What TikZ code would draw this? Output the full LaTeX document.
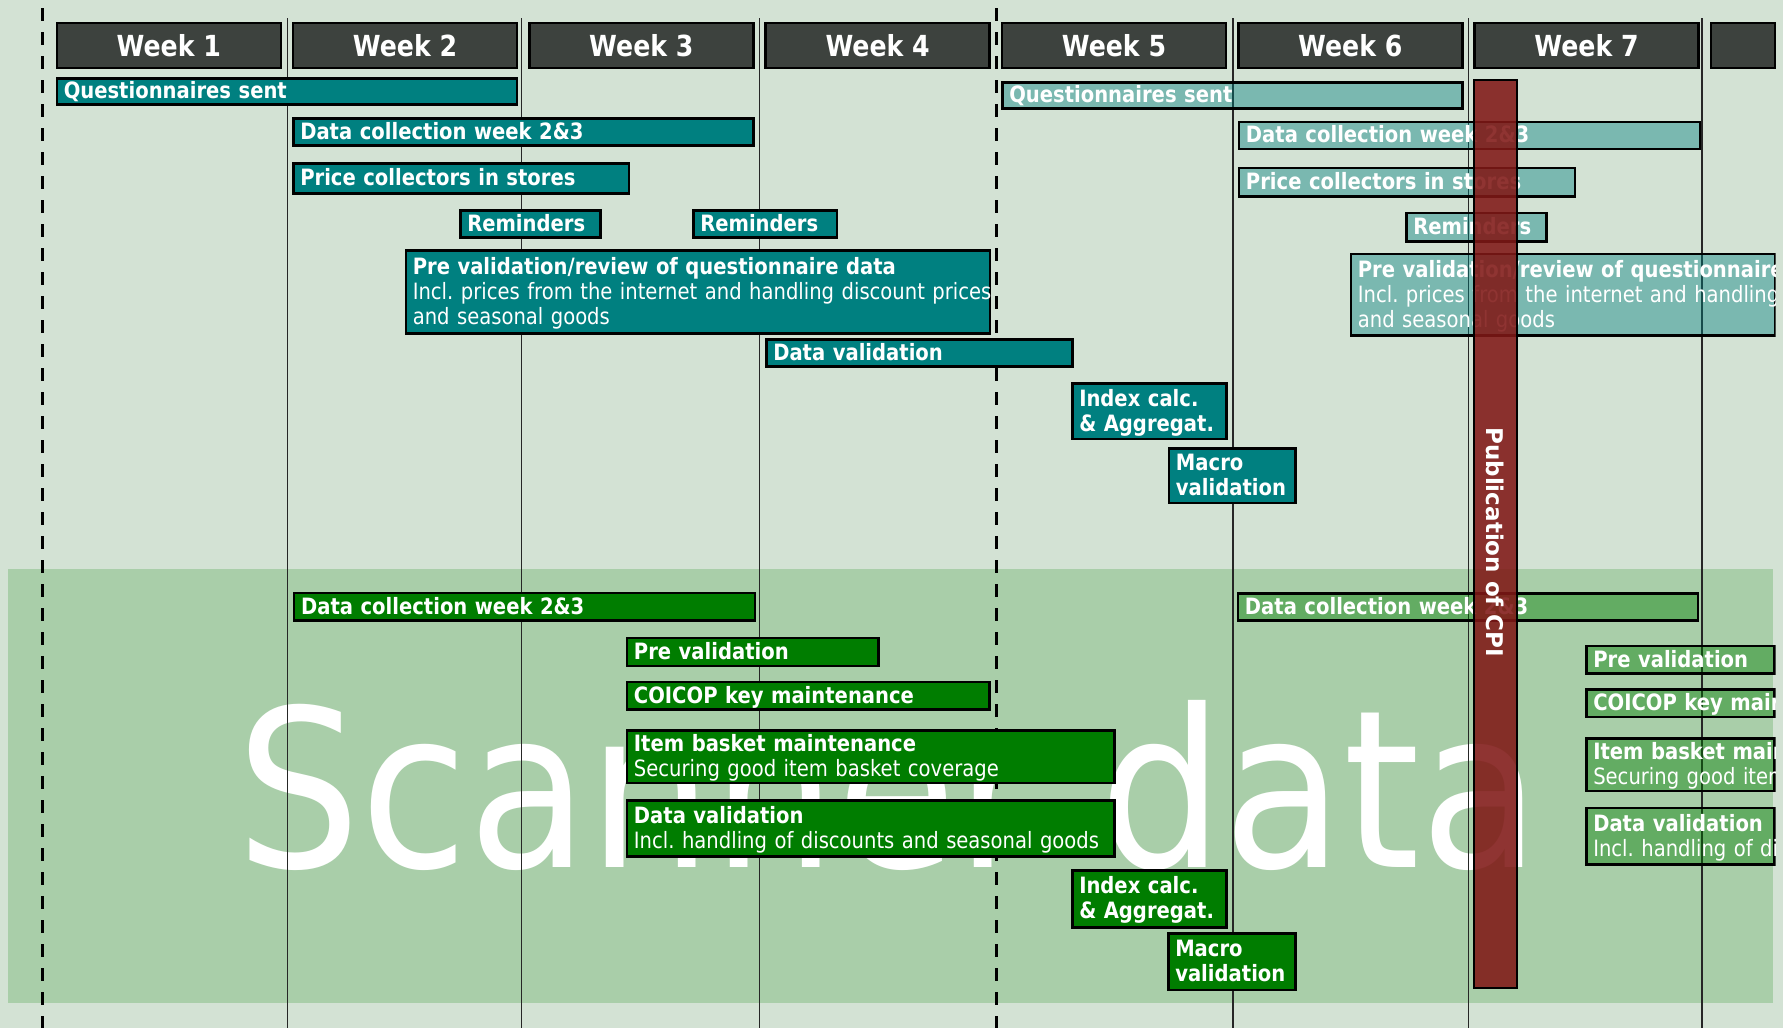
\documentclass[tikz,border=0pt]{standalone}
\usepackage{fontspec}
\newfontfamily\tah[FakeStretch=0.87]{DejaVu Sans}
\newfontfamily\bigf[FakeStretch=0.89]{DejaVu Sans}
\newfontfamily\verd{DejaVu Sans}
\frenchspacing
\definecolor{bg}{HTML}{D3E2D4}
\definecolor{band}{HTML}{A9CEA9}
\definecolor{hdr}{HTML}{3D423E}
\definecolor{teal1}{HTML}{008080}
\definecolor{green1}{HTML}{007D00}
\definecolor{redbar}{RGB}{128,24,22}
\newcommand\bl[1]{\rule[-1pt]{0pt}{17pt}\smash{#1}}
\newcommand\task[7]{%
  \pgfmathsetmacro\tw{#5-#3}\pgfmathsetmacro\th{#6-#4}\pgfmathsetmacro\tt{#5-#3-14}%
  \node[taskbox,#2,minimum width=\tw pt,minimum height=\th pt,text width=\tt pt] (#1) at (#3,#4) {#7};}
\tikzset{
  taskbox/.style={draw=black, line width=2.5pt, text=white, anchor=north west,
    inner xsep=7pt, inner ysep=0pt, align=left, font=\tah\frenchspacing\fontsize{22.5}{25}\selectfont},
  tl/.style={fill=teal1},
  gr/.style={fill=green1},
  tlx/.style={fill=teal1, fill opacity=0.42, text opacity=1},
  grx/.style={fill=green1, fill opacity=0.41, text opacity=1},
  hdrbox/.style={draw=black, line width=2.5pt, fill=hdr, text=white, anchor=north west,
    minimum width=224pt, minimum height=45pt, inner sep=0pt,
    font=\tah\bfseries\fontsize{29}{30}\selectfont},
  grid/.style={line width=1.3pt, draw=black!85},
  sep/.style={line width=3pt, draw=black, dash pattern=on 13pt off 11pt},
}
\begin{document}
\begin{tikzpicture}[x=1pt,y=-1pt]
\useasboundingbox (0,0) rectangle (1783,1028);
\fill[bg] (0,0) rectangle (1783,1028);
\fill[band] (8,569) rectangle (1773,1003);
\node[anchor=base west, inner sep=0pt, text=white, font=\bigf\fontsize{220}{220}\selectfont] (big) at (236,867) {Scanner data};
% grid lines
\foreach \gx in {287.5,521.5,759.5,1233,1468.5,1702}
  \draw[grid] (\gx,18) -- (\gx,1028);
\foreach \gx in {42,996.5}
  \draw[sep] (\gx,8) -- (\gx,1028);
% headers
\node[hdrbox] (w1) at (55.5,21.7) {Week 1};
\node[hdrbox] (w2) at (291.8,21.7) {Week 2};
\node[hdrbox] (w3) at (528.1,21.7) {Week 3};
\node[hdrbox] (w4) at (764.4,21.7) {Week 4};
\node[hdrbox] (w5) at (1000.7,21.7) {Week 5};
\node[hdrbox] (w6) at (1237,21.7) {Week 6};
\node[hdrbox] (w7) at (1473.3,21.7) {Week 7};
\node[hdrbox, minimum width=64pt] (w8) at (1709.6,21.7) {};
% questionnaire tasks
\task{t1}{tl}{55.5}{77}{515.5}{103}{\bl{\bfseries Questionnaires sent}}
\task{t2}{tl}{292}{117}{752}{144}{\bl{\bfseries Data collection week 2\&3}}
\task{t3}{tl}{292}{162}{627.5}{192}{\bl{\bfseries Price collectors in stores}}
\task{t4}{tl}{459}{209}{599}{236}{\bl{\bfseries Reminders}}
\task{t5}{tl}{692}{209}{835.5}{236}{\bl{\bfseries Reminders}}
\task{t6}{tl}{404.5}{249}{988.7}{332}{\bl{\bfseries Pre validation/review of questionnaire data}\\\bl{Incl. prices from the internet and handling discount prices}\\\bl{and seasonal goods}}
\task{t7}{tl}{765}{338}{1071}{365}{\bl{\bfseries Data validation}}
\task{t8}{tl}{1071}{382.3}{1225}{437.7}{\bl{\bfseries Index calc.}\\\bl{\bfseries \& Aggregat.}}
\task{t9}{tl}{1167.7}{447}{1294.3}{501.7}{\bl{\bfseries Macro}\\\bl{\bfseries validation}}
% scanner data tasks
\task{g1}{gr}{292.8}{591.7}{753.7}{619.3}{\bl{\bfseries Data collection week 2\&3}}
\task{g2}{gr}{625.7}{636.7}{877}{664.7}{\bl{\bfseries Pre validation}}
\task{g3}{gr}{625.7}{680.7}{988.4}{708.3}{\bl{\bfseries COICOP key maintenance}}
\task{g4}{gr}{625.7}{729.3}{1113.4}{781.7}{\bl{\bfseries Item basket maintenance}\\\bl{Securing good item basket coverage}}
\task{g5}{gr}{625.7}{799.3}{1113.4}{855}{\bl{\bfseries Data validation}\\\bl{Incl. handling of discounts and seasonal goods}}
\task{g6}{gr}{1071}{869.3}{1225.4}{926}{\bl{\bfseries Index calc.}\\\bl{\bfseries \& Aggregat.}}
\task{g7}{gr}{1167}{932}{1294}{988.7}{\bl{\bfseries Macro}\\\bl{\bfseries validation}}
% next cycle (faded)
\begin{scope}
\clip (0,0) rectangle (1775.5,1028);
\task{r1}{tlx}{1001}{81}{1461}{107}{\bl{\bfseries Questionnaires sent}}
\task{r2}{tlx}{1237.7}{120.7}{1698.5}{147.7}{\bl{\bfseries Data collection week 2\&3}}
\task{r3}{tlx}{1237.7}{166.7}{1573.5}{195.3}{\bl{\bfseries Price collectors in stores}}
\task{r4}{tlx}{1405}{211.7}{1545}{240}{\bl{\bfseries Reminders}}
\task{r5}{tlx}{1349.6}{252.7}{1774}{334}{\bl{\bfseries Pre validation/review of questionnaire data}\\\bl{Incl. prices from the internet and handling discount prices}\\\bl{and seasonal goods}}
\task{l1}{grx}{1236.7}{592}{1696.7}{619.3}{\bl{\bfseries Data collection week 2\&3}}
\task{l2}{grx}{1585}{644.7}{1773}{672}{\bl{\bfseries Pre validation}}
\task{l3}{grx}{1585}{688.3}{1773}{715.7}{\bl{\bfseries COICOP key maintenance}}
\task{l4}{grx}{1585}{737}{1773}{789.7}{\bl{\bfseries Item basket maintenance}\\\bl{Securing good item basket coverage}}
\task{l5}{grx}{1585}{806.7}{1773}{863.3}{\bl{\bfseries Data validation}\\\bl{Incl. handling of discounts and seasonal goods}}
\end{scope}
% publication bar
\node[draw=black, line width=2pt, fill=redbar, fill opacity=0.88, text opacity=1, text=white,
  rotate=-90, minimum width=907.5pt, minimum height=43.5pt, inner sep=0pt,
  font=\verd\bfseries\fontsize{23}{23}\selectfont] (pub) at (1495.25,533.75) {\hspace*{17pt}Publication of CPI};
\end{tikzpicture}
\end{document}
